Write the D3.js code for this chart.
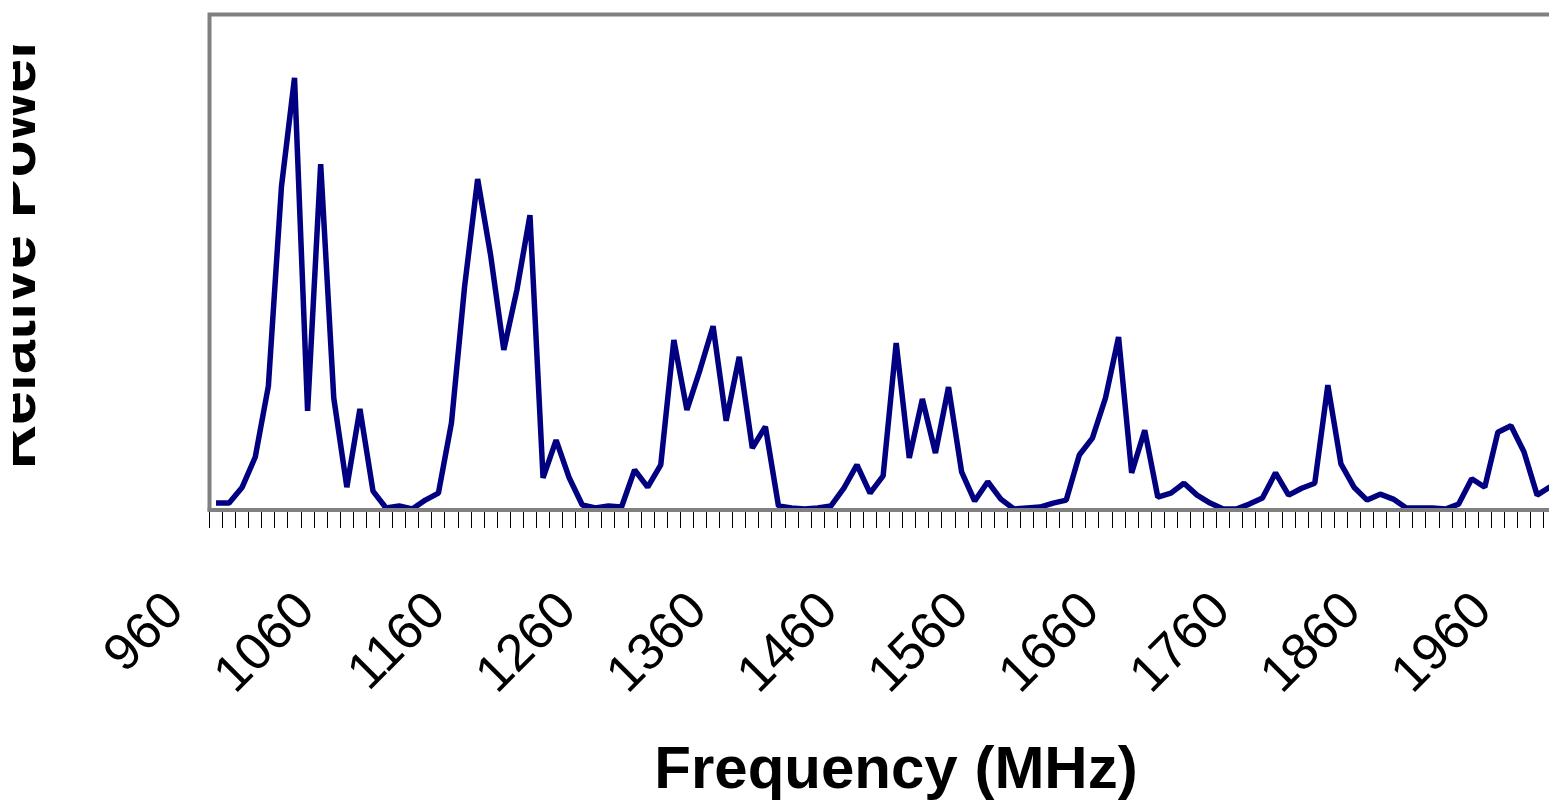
<!DOCTYPE html>
<html>
<head>
<meta charset="utf-8">
<script src="https://cdn.jsdelivr.net/npm/d3@7"></script>
<style>
	body { margin: 0; background: #fff; }
	svg { display: block; }
	.tick-label { font-family: 'Liberation Sans', Arial, sans-serif; font-size: 52px; fill: #000; }
	.axis-title { font-family: 'Liberation Sans', Arial, sans-serif; font-weight: bold; fill: #000; }
</style>
</head>
<body>
<svg id="chart-svg" width="1549" height="800"></svg>
<script>
// categories: 960 MHz upward in 10 MHz steps (plot runs past the right edge)
const FREQUENCIES = d3.range(960, 2010, 10);

// relative power, one value per category from 960 MHz
const POWER = [
	0.014, 0.014, 0.046, 0.107, 0.250, 0.652, 0.872, 0.200, 0.698, 0.226,
	0.046, 0.204, 0.038, 0.004, 0.008, 0.002, 0.020, 0.034, 0.176, 0.450,
	0.668, 0.513, 0.323, 0.444, 0.595, 0.065, 0.141, 0.065, 0.010, 0.004,
	0.008, 0.006, 0.081, 0.046, 0.091, 0.343, 0.202, 0.283, 0.371, 0.180,
	0.309, 0.125, 0.168, 0.008, 0.004, 0.002, 0.004, 0.008, 0.044, 0.091,
	0.034, 0.069, 0.337, 0.105, 0.224, 0.115, 0.248, 0.077, 0.018, 0.057,
	0.022, 0.002, 0.004, 0.006, 0.014, 0.020, 0.111, 0.145, 0.226, 0.349,
	0.075, 0.161, 0.026, 0.034, 0.054, 0.030, 0.014, 0.002, 0.002, 0.012,
	0.024, 0.075, 0.030, 0.044, 0.054, 0.252, 0.093, 0.046, 0.020, 0.032,
	0.022, 0.004, 0.004, 0.004, 0.002, 0.012, 0.063, 0.046, 0.157, 0.170,
	0.117, 0.030, 0.047
];

// every 10th category gets a label
const TICK_LABELS = FREQUENCIES.filter((f, i) => i % 10 === 0 && f <= 1960);

const svg = d3.select('#chart-svg');

const plotLeft = 209.5;
const plotTop = 14.5;
const plotBottom = 510;
const bandWidth = 13.08;

const xScale = d3.scaleBand()
	.domain(FREQUENCIES)
	.range([plotLeft, plotLeft + bandWidth * FREQUENCIES.length])
	.paddingInner(0)
	.paddingOuter(0);

const yScale = d3.scaleLinear().domain([0, 1]).range([plotBottom, plotTop]);

const xCenter = (f) => xScale(f) + xScale.bandwidth() / 2;

// tick marks between categories
svg.append('g')
	.attr('class', 'minor-ticks')
	.selectAll('line')
	.data(FREQUENCIES)
	.enter()
	.append('line')
	.attr('x1', (f) => Math.round(xScale(f) - 0.5) + 0.5)
	.attr('x2', (f) => Math.round(xScale(f) - 0.5) + 0.5)
	.attr('y1', plotBottom + 2)
	.attr('y2', plotBottom + 18)
	.attr('stroke', '#000')
	.attr('stroke-width', 1);

// data line
const line = d3.line()
	.x((d, i) => xCenter(FREQUENCIES[i]))
	.y((d) => yScale(d));

svg.append('path')
	.datum(POWER)
	.attr('d', line)
	.attr('fill', 'none')
	.attr('stroke', '#000080')
	.attr('stroke-width', 5.5)
	.attr('stroke-linejoin', 'bevel');

// plot frame: top, left and the axis line
const frameRight = xScale.range()[1];
svg.append('path')
	.attr('d', `M${plotLeft},${plotBottom}V${plotTop}H${frameRight}`)
	.attr('fill', 'none')
	.attr('stroke', '#808080')
	.attr('stroke-width', 4);

const xAxis = d3.axisBottom(xScale).tickValues([]).tickSize(0);
svg.append('g')
	.attr('transform', `translate(0, ${plotBottom})`)
	.call(xAxis)
	.call((g) => g.select('.domain').attr('stroke', '#808080').attr('stroke-width', 4).attr('d', `M${plotLeft - 2},0H${frameRight}`));

// rotated category labels
svg.append('g')
	.selectAll('text')
	.data(TICK_LABELS)
	.enter()
	.append('text')
	.attr('class', 'tick-label')
	.attr('text-anchor', 'end')
	.attr('transform', (f) => `translate(${xCenter(f) - 30}, 613) rotate(-45)`)
	.text((f) => f);

// axis titles
svg.append('text')
	.attr('class', 'axis-title')
	.attr('x', 896)
	.attr('y', 788)
	.attr('text-anchor', 'middle')
	.style('font-size', '60px')
	.text('Frequency (MHz)');

svg.append('clipPath')
	.attr('id', 'ytitle-clip')
	.append('rect')
	.attr('x', 13)
	.attr('y', 0)
	.attr('width', 100)
	.attr('height', 800);

svg.append('g')
	.attr('clip-path', 'url(#ytitle-clip)')
	.append('text')
	.attr('class', 'axis-title')
	.attr('text-anchor', 'start')
	.attr('transform', 'translate(35, 469) rotate(-90)')
	.style('font-size', '61px')
	.text('Relative Power');
</script>
</body>
</html>
